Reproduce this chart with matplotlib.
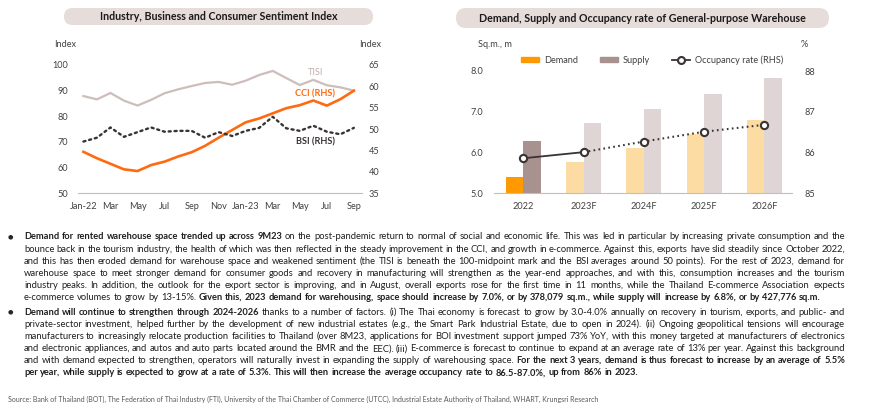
import matplotlib
matplotlib.use("Agg")
import matplotlib.pyplot as plt
from matplotlib.patches import FancyBboxPatch, Patch
from matplotlib.lines import Line2D

FONT = ["Lato", "DejaVu Sans"]
plt.rcParams["font.family"] = FONT

# ---- data: sentiment indices (Jan-22 .. Sep-23)
month_ticks = ["Jan-22", "Mar", "May", "Jul", "Sep", "Nov", "Jan-23", "Mar", "May", "Jul", "Sep"]
tisi = [87.9, 86.6, 89.1, 86.1, 84.2, 86.4, 89.0, 90.5, 91.8, 93.0, 93.4, 92.3,
        93.9, 96.1, 97.7, 94.9, 92.2, 94.2, 92.1, 91.3, 90.0]
cci = [44.7, 43.2, 41.9, 40.6, 40.2, 41.6, 42.4, 43.6, 44.6, 46.1, 48.0, 49.8,
       51.6, 52.5, 53.7, 54.9, 55.6, 56.7, 55.5, 57.0, 59.0]
bsi = [47.1, 48.0, 50.4, 48.2, 49.3, 50.4, 49.4, 49.6, 49.6, 48.0, 49.3, 48.4,
       49.6, 50.3, 52.9, 50.2, 49.6, 50.8, 49.4, 48.8, 50.3]

# ---- data: warehouse demand / supply (sq.m., m) and occupancy (%)
years = ["2022", "2023F", "2024F", "2025F", "2026F"]
demand = [5.41, 5.78, 6.12, 6.45, 6.80]
supply = [6.29, 6.72, 7.08, 7.44, 7.84]
occupancy = [85.86, 86.01, 86.27, 86.51, 86.68]

W, H = 870, 418
fig = plt.figure(figsize=(W / 100, H / 100), dpi=100)
renderer = fig.canvas.get_renderer()


def fx(px):
    return px / W


def fy(py):
    return 1 - py / H


_cache = {}


def width(s, bold, size):
    key = (s, bold, size)
    if key not in _cache:
        t = fig.text(0, 0, s, fontsize=size, fontweight="bold" if bold else "normal")
        _cache[key] = t.get_window_extent(renderer).width
        t.remove()
    return _cache[key]


def fit(s, bold, target, s0=7.0):
    # font size that makes the string about target px wide
    return round(s0 * target / width(s, bold, s0), 2)


TICK = "#404040"
AXLINE = "#BFBFBF"
PILL = "#E6DCDA"


def pill(x0, x1, y0, y1, title, tw):
    h = (y1 - y0) / 100
    box = FancyBboxPatch((x0 / 100, (H - y1) / 100), (x1 - x0) / 100, h,
                         boxstyle=f"round,pad=0,rounding_size={h / 2}",
                         transform=fig.dpi_scale_trans, facecolor=PILL,
                         edgecolor="none")
    fig.patches.append(box)
    fig.text(fx((x0 + x1) / 2), fy((y0 + y1) / 2), title, ha="center", va="center",
             fontsize=fit(title, True, tw), fontweight="bold", color="#1a1a1a")


pill(64, 373, 8, 25, "Industry, Business and Consumer Sentiment Index", 240)
pill(456, 829, 8, 28, "Demand, Supply and Occupancy rate of General-purpose Warehouse", 330)

# ---------------- left chart
axl = fig.add_axes([fx(78), fy(193.3), fx(362) - fx(78), fy(65) - fy(193.3)])
x = list(range(len(tisi)))
axl.plot(x, tisi, color="#CDBDBB", lw=1.6, solid_joinstyle="round")
axl.set_ylim(50, 100)
axl.set_xlim(-0.4, 20.6)
axl.set_yticks(range(50, 101, 10))
axl.set_xticks(range(0, 21, 2))
axl.set_xticklabels(month_ticks)
axr = axl.twinx()
axr.plot(x, cci, color="#FF6A10", lw=1.9, solid_joinstyle="round")
axr.plot(x, bsi, color="#3A3333", lw=1.7, linestyle=(0, (0.9, 1.6)),
         dash_capstyle="round")
axr.set_ylim(35, 65)
axr.set_yticks(range(35, 66, 5))
for a in (axl, axr):
    for s in a.spines.values():
        s.set_visible(False)
    a.tick_params(length=0, labelsize=6.6, colors=TICK)
axl.spines["bottom"].set_visible(True)
axl.spines["bottom"].set_color(AXLINE)
axl.tick_params(axis="y", pad=7)
axl.tick_params(axis="x", pad=6)
axr.tick_params(axis="y", pad=5)
axl.text(17.16, 97.0, "TISI", ha="center", va="center", fontsize=6.6, color="#C2ADAB")
axl.text(17.16, 88.7, "CCI (RHS)", ha="center", va="center", fontsize=6.6,
         fontweight="bold", color="#FF6A10")
axl.text(17.16, 69.9, "BSI (RHS)", ha="center", va="center", fontsize=6.6,
         fontweight="bold", color="#3A3333")
fig.text(fx(54), fy(44.5), "Index", ha="left", va="center", fontsize=6.6, color=TICK)
fig.text(fx(359), fy(44.5), "Index", ha="left", va="center", fontsize=6.6, color=TICK)

# ---------------- right chart
bx = fig.add_axes([fx(494), fy(193.3), fx(792) - fx(494), fy(71) - fy(193.3)])
pos = list(range(len(years)))
bw = 0.29
d_col = ["#FF9900"] + ["#FDDCA3"] * 4
s_col = ["#A8928F"] + ["#E0D5D5"] * 4
bx.bar([p - bw / 2 for p in pos], [d - 5 for d in demand], bw, bottom=5, color=d_col)
bx.bar([p + bw / 2 for p in pos], [s - 5 for s in supply], bw, bottom=5, color=s_col)
bx.set_ylim(5, 8)
bx.set_xlim(-0.49, 4.46)
bx.set_yticks([5, 6, 7, 8])
bx.set_yticklabels(["5.0", "6.0", "7.0", "8.0"])
bx.set_xticks(pos)
bx.set_xticklabels(years)
bx2 = bx.twinx()
OCC = "#3A3333"
bx2.plot(pos[:2], occupancy[:2], color=OCC, lw=1.3, zorder=3)
bx2.plot(pos[1:], occupancy[1:], color=OCC, lw=1.5, linestyle=(0, (0.8, 1.6)), zorder=3)
bx2.plot(pos, occupancy, linestyle="none", marker="o", ms=5.2, mfc="white",
         mec=OCC, mew=1.5, zorder=4)
bx2.set_ylim(85, 88)
bx2.set_yticks([85, 86, 87, 88])
for a in (bx, bx2):
    for s in a.spines.values():
        s.set_visible(False)
    a.tick_params(length=0, labelsize=6.6, colors=TICK)
bx.spines["bottom"].set_visible(True)
bx.spines["bottom"].set_color(AXLINE)
bx.tick_params(axis="y", pad=8)
bx.tick_params(axis="x", pad=6)
bx2.tick_params(axis="y", pad=9)
fig.text(fx(478), fy(44.5), "Sq.m., m", ha="left", va="center", fontsize=6.6, color=TICK)
fig.text(fx(801), fy(44.5), "%", ha="left", va="center", fontsize=6.6, color=TICK)
handles = [Patch(color="#FF9900", label="Demand"),
           Patch(color="#A8928F", label="Supply"),
           Line2D([], [], color=OCC, lw=1.3, marker="o", ms=5, mfc="white", mec=OCC,
                  mew=1.5, label="Occupancy rate (RHS)")]
leg = fig.legend(handles=handles, loc="center", bbox_to_anchor=(fx(652), fy(60)),
                 ncol=3, frameon=False, fontsize=6.6, handlelength=2.0,
                 handleheight=0.5, columnspacing=2.4, handletextpad=0.5)
for t in leg.get_texts():
    t.set_color(TICK)

# ---------------- commentary text (justified)
p1 = [
    [("Demand for rented warehouse space trended up across 9M23", True),
     (" on the post-pandemic return to normal of social and economic life. This was led in particular by increasing private consumption and the", False)],
    [("bounce back in the tourism industry, the health of which was then reflected in the steady improvement in the CCI, and growth in e-commerce. Against this, exports have slid steadily since October 2022,", False)],
    [("and this has then eroded demand for warehouse space and weakened sentiment (the TISI is beneath the 100-midpoint mark and the BSI averages around 50 points). For the rest of 2023, demand for", False)],
    [("warehouse space to meet stronger demand for consumer goods and recovery in manufacturing will strengthen as the year-end approaches, and with this, consumption increases and the tourism", False)],
    [("industry peaks. In addition, the outlook for the export sector is improving, and in August, overall exports rose for the first time in 11 months, while the Thailand E-commerce Association expects", False)],
    [("e-commerce volumes to grow by 13-15%. ", False),
     ("Given this, 2023 demand for warehousing, space should increase by 7.0%, or by 378,079 sq.m., while supply will increase by 6.8%, or by 427,776 sq.m.", True)],
]
p2 = [
    [("Demand will continue to strengthen through 2024-2026", True),
     (" thanks to a number of factors. (i) The Thai economy is forecast to grow by 3.0-4.0% annually on recovery in tourism, exports, and public- and", False)],
    [("private-sector investment, helped further by the development of new industrial estates (e.g., the Smart Park Industrial Estate, due to open in 2024). (ii) Ongoing geopolitical tensions will encourage", False)],
    [("manufacturers to increasingly relocate production facilities to Thailand (over 8M23, applications for BOI investment support jumped 73% YoY, with this money targeted at manufacturers of electronics", False)],
    [("and electronic appliances, and autos and auto parts located around the BMR and the EEC). (iii) E-commerce is forecast to continue to expand at an average rate of 13% per year. Against this background", False)],
    [("and with demand expected to strengthen, operators will naturally invest in expanding the supply of warehousing space. ", False),
     ("For the next 3 years, demand is thus forecast to increase by an average of 5.5%", True)],
    [("per year, while supply is expected to grow at a rate of 5.3%. This will then increase the average occupancy rate to 86.5-87.0%, up from 86% in 2023.", True)],
]


def words_of(segs):
    out = []
    for s, b in segs:
        out += [(w, b) for w in s.split()]
    return out


def natural(segs, sr, sb):
    ws = words_of(segs)
    sp = width("a a", False, sr) - width("aa", False, sr)
    return sum(width(w, b, sb if b else sr) for w, b in ws) + sp * (len(ws) - 1)


# regular size: plain justified lines need a little slack; bold size from the last line of p2
s0 = 7.0
plain = [p1[1], p1[2], p1[3], p1[4], p2[1], p2[2], p2[3]]
avg = sum(natural(l, s0, s0) for l in plain) / len(plain)
TR = round(s0 * 812 / avg, 2)
TB = round(s0 * 621 / natural(p2[-1], s0, s0), 2)
X0, X1 = 24, 845
TXT = "#1f1f1f"


def draw_line(segs, base, justify):
    ws = words_of(segs)
    wl = [width(w, b, TB if b else TR) for w, b in ws]
    if justify:
        gap = (X1 - X0 - sum(wl)) / (len(ws) - 1)
    else:
        gap = width("a a", False, TR) - width("aa", False, TR)
    xp = X0
    for (w, b), wd in zip(ws, wl):
        fig.text(fx(xp), fy(base), w, fontsize=TB if b else TR,
                 fontweight="bold" if b else "normal",
                 color=TXT, ha="left", va="baseline")
        xp += wd + gap


for para, b0 in ((p1, 239.5), (p2, 314.8)):
    fig.text(fx(10), fy(b0 - 2.8), "\u25cf", family="DejaVu Sans", fontsize=4.5,
             color="#262626", ha="center", va="center")
    for i, segs in enumerate(para):
        draw_line(segs, b0 + i * 12.1, i < len(para) - 1)

src = ("Source: Bank of Thailand (BOT), The Federation of Thai Industry (FTI), "
       "University of the Thai Chamber of Commerce (UTCC), Industrial Estate Authority of Thailand, "
       "WHART, Krungsri Research")
fig.text(fx(8), fy(399.5), src, fontsize=fit(src, False, 594), color="#595959",
         ha="left", va="center")

fig.savefig("out.png", dpi=100)
